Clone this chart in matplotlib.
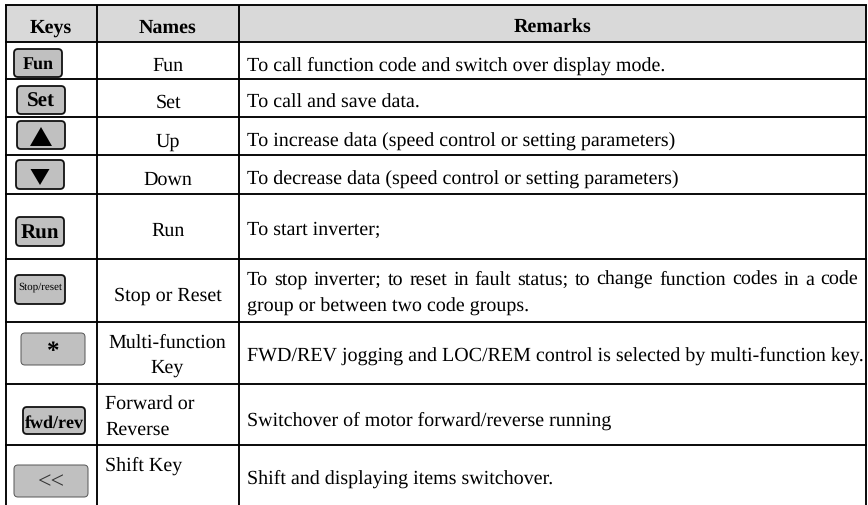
import matplotlib
matplotlib.use("Agg")
import matplotlib.pyplot as plt
from matplotlib.patches import FancyBboxPatch, Rectangle, Polygon

plt.rcParams['font.family'] = ['Liberation Serif', 'DejaVu Serif']
plt.rcParams['text.hinting'] = 'no_hinting'
plt.rcParams['text.hinting_factor'] = 1

headers = ["Keys", "Names", "Remarks"]
names = ["Fun", "Set", "Up", "Down", "Run", "Stop or Reset", "Multi-function\nKey", "Forward or\nReverse", "Shift Key"]
remarks = [
    "To call function code and switch over display mode.",
    "To call and save data.",
    "To increase data (speed control or setting parameters)",
    "To decrease data (speed control or setting parameters)",
    "To start inverter;",
    "To stop inverter; to reset in fault status; to change function codes in a code\ngroup or between two code groups.",
    "FWD/REV jogging and LOC/REM control is selected by multi-function key.",
    "Switchover of motor forward/reverse running",
    "Shift and displaying items switchover.",
]
key_labels = ["Fun", "Set", "▲", "▼", "Run", "Stop/reset", "*", "fwd/rev", "<<"]
col_x = [6, 96.5, 239, 866]
row_y = [5, 41.5, 79, 117, 155, 193.5, 259, 322, 384, 445, 505]
# key boxes: x0, x1, y0, y1
key_boxes = [(14, 62, 49, 77), (17, 65, 86, 114), (17, 65, 121, 149), (16, 64, 160, 189),
             (16, 64, 217, 246), (15, 65, 275, 304), (21, 85, 333, 365), (23, 85, 407, 434), (14, 88, 465, 497)]
key_sizes = [13, 15, 0, 0, 15, 8, 18, 13, 17]
key_y = [65, 102, 0, 0, 234, 287.5, 352, 423, 482]
key_w = ['bold', 'bold', 'bold', 'bold', 'bold', 'normal', 'bold', 'bold', 'normal']
name_x = [168, 168, 168, 168, 168, 168, 167, 105, 105]
name_y = [65.5, 102.5, 141.5, 179.5, 230.5, 295.5, 355.5, 417.5, 465.5]
remark_y = [65.5, 102.5, 141.5, 179.5, 230.5, 295, 356, 420.5, 478.5]

fig = plt.figure(figsize=(8.68, 5.05), dpi=100)
ax = fig.add_axes([0, 0, 1, 1])
ax.set_xlim(0, 868)
ax.set_ylim(505, 0)
ax.axis('off')

ax.add_patch(Rectangle((col_x[0], row_y[0]), col_x[-1] - col_x[0], row_y[1] - row_y[0], fc='#d9d9d9', ec='none'))
for y in row_y[:-1]:
    ax.plot([col_x[0] - 1, col_x[-1] + 1], [y, y], color='black', lw=1.35, solid_capstyle='butt')
for x in col_x:
    ax.plot([x, x], [row_y[0], row_y[-1]], color='black', lw=1.35, solid_capstyle='butt')

fs = 14.2
for i, h in enumerate(headers):
    ax.text((col_x[i] + col_x[i + 1]) / 2, 27.5, h, ha='center', va='center', fontsize=fs, fontweight='bold', color='black')

renderer = fig.canvas.get_renderer()


def justified(line, x0, x1, y):
    words = line.split(" ")
    arts = [ax.text(x0, y, w, ha='left', va='baseline', fontsize=fs, color='black') for w in words]
    widths = [a.get_window_extent(renderer).width for a in arts]
    gap = (x1 - x0 - sum(widths)) / (len(words) - 1)
    x = x0
    for a, w in zip(arts, widths):
        a.set_x(x)
        x += w + gap


for i in range(9):
    x0, x1, y0, y1 = key_boxes[i]
    lw = 0.7 if i in (6, 8) else 1.3
    ax.add_patch(FancyBboxPatch((x0 + 3, y0 + 3), x1 - x0 - 6, y1 - y0 - 6, boxstyle="round,pad=3,rounding_size=4",
                                fc='#c0c0c0', ec='#111111' if lw > 1 else '#555555', lw=lw))
    cx = (x0 + x1) / 2
    if i == 2:
        ax.add_patch(Polygon([(cx - 11, 146), (cx + 11, 146), (cx, 127)], fc='black', ec='none'))
    elif i == 3:
        ax.add_patch(Polygon([(cx - 9.5, 169), (cx + 9.5, 169), (cx, 185)], fc='black', ec='none'))
    elif i == 8:
        ax.text(cx, key_y[i], key_labels[i], ha='center', va='center', fontsize=key_sizes[i], color='#333333')
    else:
        ax.text(cx, key_y[i], key_labels[i], ha='center', va='center', fontsize=key_sizes[i], fontweight=key_w[i], color='black')
    ha = 'center' if name_x[i] != 105 else 'left'
    ax.text(name_x[i], name_y[i], names[i], ha=ha, va='center', fontsize=fs, color='black', linespacing=1.5)
    if i == 5:
        first, second = remarks[i].split("\n")
        justified(first, 247, 858, 285)
        ax.text(247, 312, second, ha='left', va='baseline', fontsize=fs, color='black')
    else:
        ax.text(247, remark_y[i], remarks[i], ha='left', va='center', fontsize=fs, color='black')

fig.savefig("out.png", dpi=100)
